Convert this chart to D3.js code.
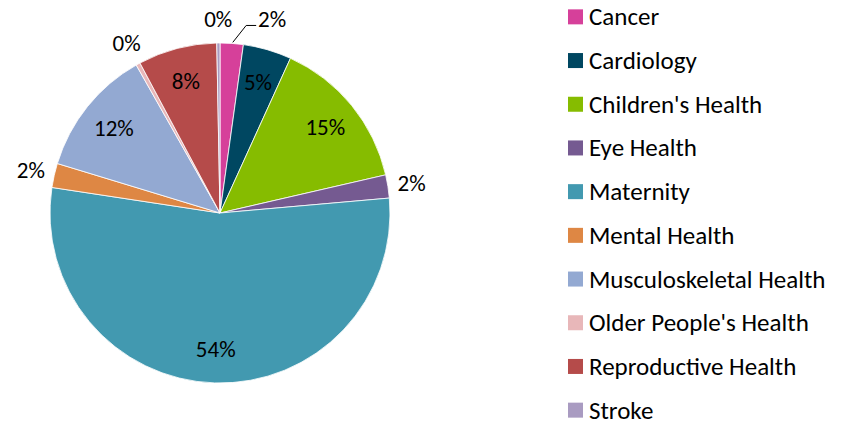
<!DOCTYPE html>
<html>
<head>
<meta charset="utf-8">
<script src="https://cdn.jsdelivr.net/npm/d3@7"></script>
<style>
    body { margin: 0; background: #fff; }
    svg { display: block; font-family: Carlito, Calibri, "Open Sans", sans-serif; }
</style>
</head>
<body>
<svg id="chart" width="845" height="425"></svg>
<script>
'use strict';

/* Data */

var categories = ["Cancer", "Cardiology", "Children's Health", "Eye Health", "Maternity",
    "Mental Health", "Musculoskeletal Health", "Older People's Health", "Reproductive Health", "Stroke"];
var shares = [2.2, 4.6, 14.6, 2.2, 53.8, 2.3, 12.1, 0.4, 7.5, 0.3];
var colors = ["#D6409A", "#004761", "#86BC00", "#755A91", "#4299B0",
    "#DE8744", "#93A9D2", "#E8B7B9", "#B54B4A", "#A99BC1"];

var svg = d3.select("#chart");
var cx = 220, cy = 213, radius = 170;

var pie = d3.pie().sort(null).value(function (d) { return d; });
var arcs = pie(shares);
var arc = d3.arc().innerRadius(0).outerRadius(radius);
var labelArc = d3.arc().innerRadius(radius * 0.8).outerRadius(radius * 0.8);
var outerArc = d3.arc().innerRadius(radius + 24).outerRadius(radius + 24);
var edgeArc = d3.arc().innerRadius(radius).outerRadius(radius);

var g = svg.append("g").attr("transform", "translate(" + cx + "," + cy + ")");

g.selectAll("path.slice")
    .data(arcs)
    .enter().append("path")
    .attr("class", "slice")
    .attr("d", arc)
    .attr("fill", function (d, i) { return colors[i]; })
    .attr("stroke", "#fff")
    .attr("stroke-width", 0.8);

// small slices get their label outside the pie
var labels = arcs.map(function (d, i) {
    var outside = d.data < 3;
    var p = outside ? outerArc.centroid(d) : labelArc.centroid(d);
    return { i: i, d: d, text: Math.round(d.data) + "%", x: p[0], y: p[1], outside: outside, leader: false };
});

var labelW = 28;
var outs = labels.filter(function (l) { return l.outside; });
outs.forEach(function (a) {
    outs.forEach(function (b) {
        if (a === b || a.x > b.x) return;
        if (Math.abs(a.x - b.x) < labelW + 4 && Math.abs(a.y - b.y) < 20) {
            b.x = a.x + labelW + 26;
            b.leader = true;
        }
    });
});

labels.filter(function (l) { return l.leader; }).forEach(function (l) {
    var e = edgeArc.centroid(l.d);
    var left = l.x - labelW / 2;
    var lineY = l.y + 6;
    g.append("polyline")
        .attr("points", [[e[0] + 1, e[1] - 1], [left - 12, lineY], [left - 2, lineY]].map(function (p) { return p.join(","); }).join(" "))
        .attr("fill", "none")
        .attr("stroke", "#000")
        .attr("stroke-width", 1);
});

g.selectAll("text.label")
    .data(labels)
    .enter().append("text")
    .attr("class", "label")
    .attr("x", function (l) { return l.x; })
    .attr("y", function (l) { return l.y; })
    .attr("text-anchor", "middle")
    .attr("dominant-baseline", "central")
    .attr("font-size", 23)
    .attr("fill", "#000")
    .text(function (l) { return l.text; });

/* Legend */

var legendY = d3.scaleBand().domain(categories).range([-5, 432]);

var legend = svg.append("g").attr("transform", "translate(568,0)");
var item = legend.selectAll("g.item")
    .data(categories)
    .enter().append("g")
    .attr("class", "item")
    .attr("transform", function (d) { return "translate(0," + (legendY(d) + legendY.bandwidth() / 2) + ")"; });

item.append("rect")
    .attr("x", 0)
    .attr("y", -7.5)
    .attr("width", 15)
    .attr("height", 15)
    .attr("fill", function (d, i) { return colors[i]; });

item.append("text")
    .attr("x", 21)
    .attr("y", 0)
    .attr("dominant-baseline", "central")
    .attr("font-size", 25)
    .attr("fill", "#000")
    .text(function (d) { return d; });
</script>
</body>
</html>
